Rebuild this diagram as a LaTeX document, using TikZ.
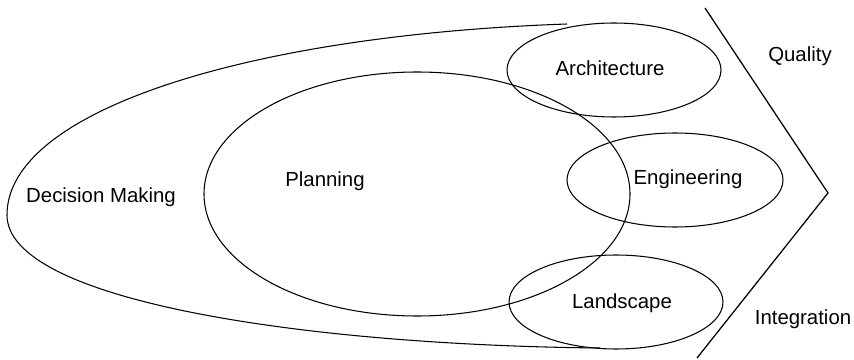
\documentclass[tikz,border=0pt]{standalone}
\usepackage{fontspec}
\setmainfont{Liberation Sans}
\usepackage{tikz}

\begin{document}
\begin{tikzpicture}[x=0.025cm,y=-0.025cm,line width=0.75pt,
  lbl/.style={anchor=base,inner sep=0pt,font=\fontsize{14.5}{17}\selectfont}]
  \useasboundingbox (0,0) rectangle (854,360);
  \draw (567,24) .. controls (250,35) and (7,110) .. (7,215)
        .. controls (7,300) and (300,345) .. (600,348);
  \draw (417,194) ellipse (213 and 122);
  \draw (614,70) ellipse (107 and 47);
  \draw (675,180) ellipse (108 and 47);
  \draw (616,302) ellipse (107 and 47);
  \draw[line width=0.9pt] (705,8)--(828,193)--(697,358);
  \node[lbl] (dm) at (101,202) {Decision Making};
  \node[lbl] (plan) at (325,187) {Planning};
  \node[lbl] (arch) at (610,76) {Architecture};
  \node[lbl] (eng) at (688,185) {Engineering};
  \node[lbl] (land) at (622,308) {Landscape};
  \node[lbl] (qual) at (800,62) {Quality};
  \node[lbl] (integ) at (803,324) {Integration};
\end{tikzpicture}
\end{document}
